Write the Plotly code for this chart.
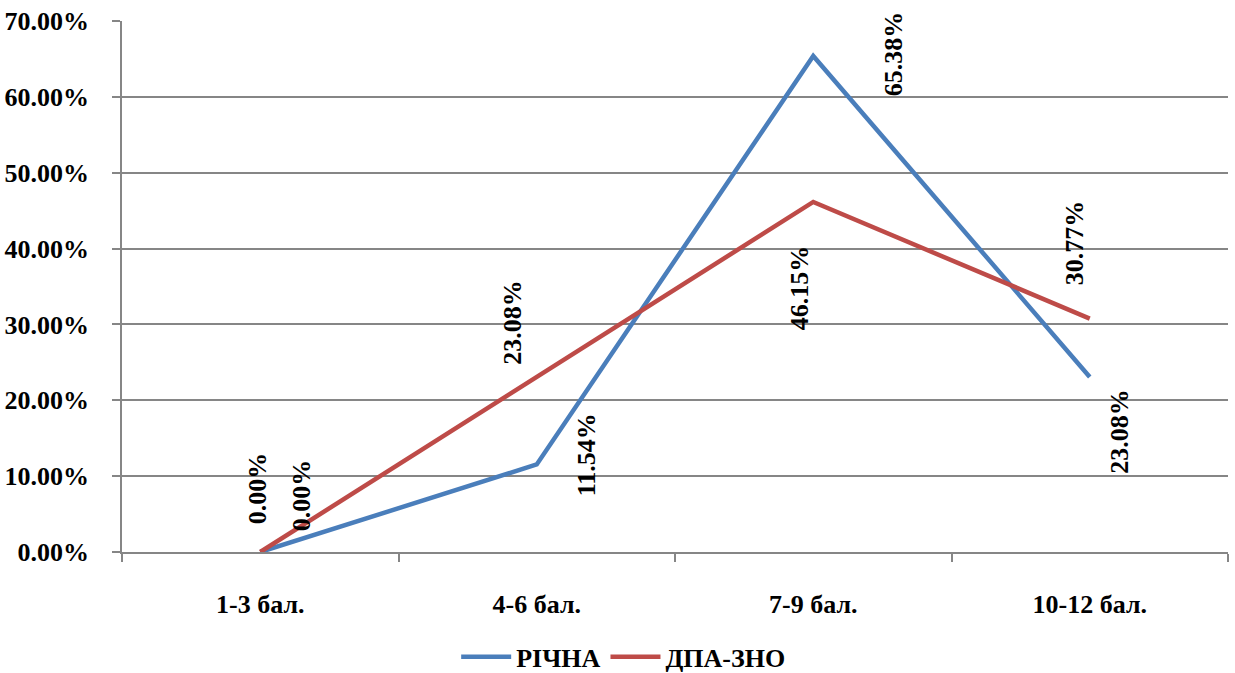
import plotly.graph_objects as go

categories = ["1-3 бал.", "4-6 бал.", "7-9 бал.", "10-12 бал."]
series_names = ["РІЧНА", "ДПА-ЗНО"]
richna = [0.0, 0.1154, 0.6538, 0.2308]
dpa_zno = [0.0, 0.2308, 0.4615, 0.3077]

colors = ["#4A7EBB", "#BE4B48"]
# manual label offsets (pixels: dx right, dy up) as placed in the original chart
label_offsets = [
    [(-3, 64), (50, 10), (80, 2), (30, -54)],
    [(41, 57), (-24, 55), (-13, -86), (-15, 76)],
]

FONT = "Liberation Serif"
FS = 26
GRID = "#868686"

fig = go.Figure()
for name, vals, col in zip(series_names, [richna, dpa_zno], colors):
    fig.add_trace(go.Scatter(x=categories, y=vals, name=name, mode="lines",
                             line=dict(color=col, width=4.5)))

for vals, offs in zip([richna, dpa_zno], label_offsets):
    for cat, v, (dx, dy) in zip(categories, vals, offs):
        fig.add_annotation(x=cat, y=v, xref="x", yref="y", text=f"{v*100:.2f}%",
                           showarrow=False, textangle=-90, xshift=dx, yshift=dy,
                           xanchor="center", yanchor="middle",
                           font=dict(family=FONT, size=FS, color="black", weight="bold"))

fig.update_layout(
    width=1235, height=673,
    margin=dict(l=122, r=7, t=21, b=121, autoexpand=False),
    plot_bgcolor="white", paper_bgcolor="white",
    font=dict(family=FONT, size=FS, color="black", weight="bold"),
    showlegend=True,
    legend=dict(orientation="h", xref="container", x=0.505, xanchor="center",
                yref="container", y=0.024, yanchor="middle",
                font=dict(family=FONT, size=FS, color="black", weight="bold"),
                itemwidth=50),
)
fig.update_xaxes(type="category", range=[-0.5, 3.5], showline=True, linecolor=GRID,
                 linewidth=1.5, ticks="outside", tickson="boundaries", ticklen=8,
                 tickcolor=GRID, tickwidth=1.5, showgrid=False, ticklabelstandoff=28,
                 tickfont=dict(family=FONT, size=FS, color="black", weight="bold"))
fig.update_yaxes(range=[0, 0.7], dtick=0.1, tickformat=".2%", showline=True,
                 linecolor=GRID, linewidth=1.5, ticks="outside", ticklen=8,
                 tickcolor=GRID, tickwidth=1.5, showgrid=True, gridcolor=GRID,
                 gridwidth=1.5, zeroline=False, ticklabelstandoff=18,
                 tickfont=dict(family=FONT, size=FS, color="black", weight="bold"))

fig.write_html("out.html", config={"displayModeBar": False},
               post_script="document.body.style.margin='0';document.body.style.overflow='hidden';")
